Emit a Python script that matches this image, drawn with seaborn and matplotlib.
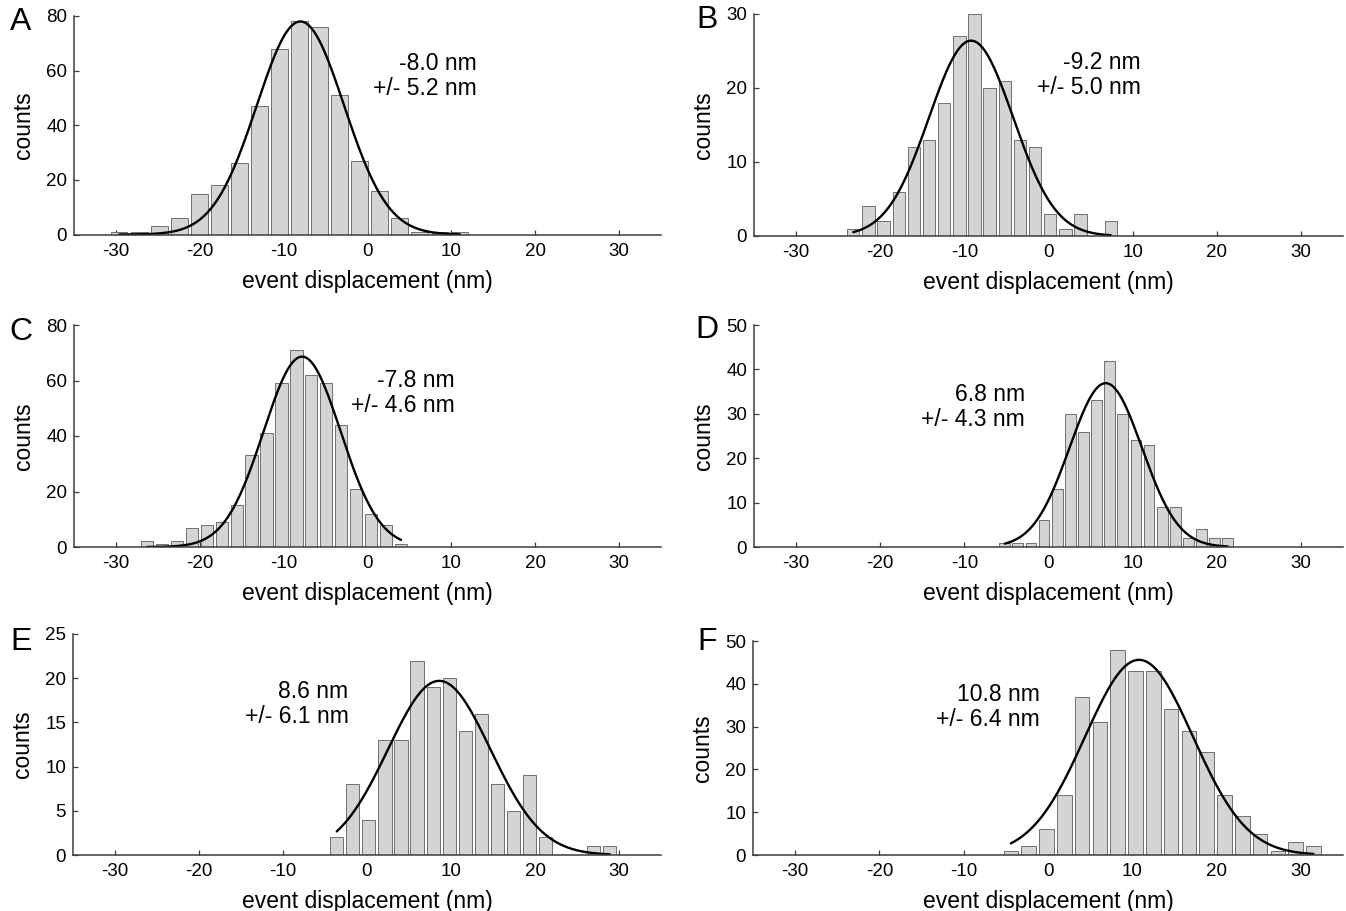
import numpy as np
import pandas as pd
import matplotlib
matplotlib.use("Agg")
import matplotlib.pyplot as plt
import seaborn as sns

# Histogram bin centres (nm) and counts for each condition
centers_a = [-29.6, -27.2, -24.8, -22.4, -20.0, -17.7, -15.3, -12.9, -10.5, -8.1,
             -5.7, -3.3, -0.9, 1.5, 3.9, 6.3, 8.6, 11.0]
counts_a = [1, 1, 3, 6, 15, 18, 26, 47, 68, 78, 76, 51, 27, 16, 6, 1, 1, 1]

centers_b = [-23.2, -21.4, -19.6, -17.8, -16.0, -14.2, -12.4, -10.6, -8.8, -7.0,
             -5.2, -3.4, -1.6, 0.2, 2.0, 3.8, 5.6, 7.4]
counts_b = [1, 4, 2, 6, 12, 13, 18, 27, 30, 20, 21, 13, 12, 3, 1, 3, 0, 2]

centers_c = [-26.3, -24.5, -22.7, -21.0, -19.2, -17.4, -15.6, -13.8, -12.0, -10.3,
             -8.5, -6.7, -4.9, -3.1, -1.4, 0.4, 2.2, 4.0]
counts_c = [2, 1, 2, 7, 8, 9, 15, 33, 41, 59, 71, 62, 59, 44, 21, 12, 8, 1]

centers_d = [-5.2, -3.6, -2.1, -0.5, 1.0, 2.6, 4.2, 5.7, 7.3, 8.8,
             10.4, 11.9, 13.5, 15.1, 16.6, 18.2, 19.7, 21.3]
counts_d = [1, 1, 1, 6, 13, 30, 26, 33, 42, 30, 24, 23, 9, 9, 2, 4, 2, 2]

centers_e = [-3.6, -1.7, 0.2, 2.1, 4.0, 6.0, 7.9, 9.8, 11.7, 13.6,
             15.5, 17.4, 19.3, 21.2, 23.2, 25.1, 27.0, 28.9]
counts_e = [2, 8, 4, 13, 13, 22, 19, 20, 14, 16, 8, 5, 9, 2, 0, 0, 1, 1]

centers_f = [-4.4, -2.3, -0.2, 1.9, 4.0, 6.2, 8.3, 10.4, 12.5, 14.6,
             16.7, 18.8, 20.9, 23.1, 25.2, 27.3, 29.4, 31.5]
counts_f = [1, 2, 6, 14, 37, 31, 48, 43, 43, 34, 29, 24, 14, 9, 5, 1, 3, 2]

# Gaussian fit parameters: mean, standard deviation, peak height
fit_mean = [-8.0, -9.2, -7.8, 6.8, 8.6, 10.8]
fit_sd = [5.2, 5.0, 4.6, 4.3, 6.1, 6.4]
fit_peak = [78, 26.4, 68.6, 36.9, 19.7, 45.6]

panel_letters = ["A", "B", "C", "D", "E", "F"]
y_max = [80, 30, 80, 50, 25, 50]
y_step = [20, 10, 20, 10, 5, 10]
x_ticks = [-30, -20, -10, 0, 10, 20, 30]

# Where the fit summary sits (data coords: right edge, vertical centre)
label_pos = [(13.0, 58), (11.0, 21.8), (10.4, 55.5), (-2.8, 31.6), (-2.2, 17.1), (-1.0, 34.6)]

all_centers = [centers_a, centers_b, centers_c, centers_d, centers_e, centers_f]
all_counts = [counts_a, counts_b, counts_c, counts_d, counts_e, counts_f]

sns.set_theme(style="ticks")
plt.rcParams["font.family"] = ["Liberation Sans", "DejaVu Sans"]
plt.rcParams["xtick.direction"] = "in"
plt.rcParams["ytick.direction"] = "in"
plt.rcParams["axes.unicode_minus"] = False
plt.rcParams["text.color"] = "black"
plt.rcParams["axes.labelcolor"] = "black"

W, H = 1346, 911
fig = plt.figure(figsize=(W / 100, H / 100), dpi=100)

# axes boxes in pixels: left, top, right, bottom
boxes = [
    (74, 16, 661, 234.5),
    (754, 14, 1343, 236),
    (74, 325, 661, 547),
    (754, 325, 1343, 547),
    (73, 634, 661, 855),
    (753, 641, 1343, 855),
]
letter_xy = [(21, 22), (707, 20), (21, 332), (707, 330), (21, 642), (707, 642)]

spine_col = "#3c3c3c"
for i in range(6):
    l, t, r, b = boxes[i]
    ax = fig.add_axes([l / W, 1 - b / H, (r - l) / W, (b - t) / H])
    c = np.array(all_centers[i])
    w = float(np.mean(np.diff(c)))
    df = pd.DataFrame({"x": c, "n": all_counts[i]})
    sns.histplot(data=df, x="x", weights="n", binwidth=w,
                 binrange=(c[0] - w / 2, c[-1] + w / 2), shrink=0.82,
                 color="#d4d4d4", edgecolor="#707070", linewidth=0.7,
                 alpha=1.0, ax=ax)

    xs = np.linspace(c[0], c[-1], 300)
    ys = fit_peak[i] * np.exp(-0.5 * ((xs - fit_mean[i]) / fit_sd[i]) ** 2)
    sns.lineplot(x=xs, y=ys, color="black", linewidth=1.7, ax=ax)

    ax.set_xlim(-35, 35)
    ax.set_ylim(0, y_max[i])
    ax.set_xticks(x_ticks)
    ax.set_yticks(np.arange(0, y_max[i] + 0.1, y_step[i]))
    ax.tick_params(axis="both", labelsize=13.5, length=3.5, width=0.9,
                   color=spine_col, labelcolor="black")
    ax.tick_params(axis="x", pad=6)
    ax.tick_params(axis="y", pad=5)
    sns.despine(ax=ax)
    for s in ("left", "bottom"):
        ax.spines[s].set_color(spine_col)
        ax.spines[s].set_linewidth(1.1)
    ax.set_xlabel("event displacement (nm)", fontsize=16.5, labelpad=7)
    ax.set_ylabel("counts", fontsize=16.5, labelpad=8)
    ax.patch.set_alpha(0)

    lx, ly = label_pos[i]
    ax.text(lx, ly, f"{fit_mean[i]:.1f} nm\n+/- {fit_sd[i]:.1f} nm",
            ha="right", va="center", fontsize=16.5, linespacing=1.1)

    fx, fy = letter_xy[i]
    fig.text(fx / W, 1 - fy / H, panel_letters[i], fontsize=23,
             ha="center", va="center")

fig.savefig("out.png", dpi=100, facecolor="white")
